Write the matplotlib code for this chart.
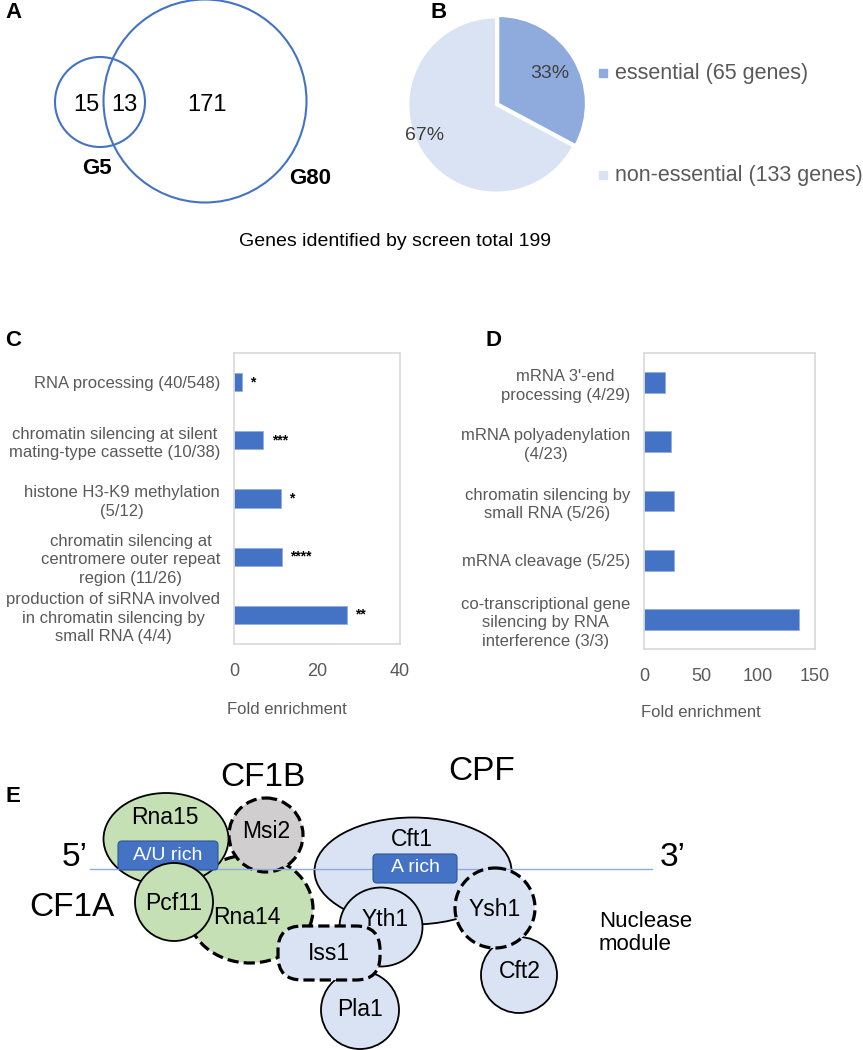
import matplotlib
matplotlib.use("Agg")
import matplotlib.pyplot as plt
from matplotlib.patches import Circle, Ellipse, FancyBboxPatch
from matplotlib.lines import Line2D

plt.rcParams['font.family'] = ['Liberation Sans', 'DejaVu Sans']

# --- data ---
venn_labels = ["15", "13", "171"]
venn_sets = ["G5", "G80"]
total_label = "Genes identified by screen total 199"

pie_names = ["essential (65 genes)", "non-essential (133 genes)"]
pie_counts = [65, 133]
pie_colors = ["#8faadc", "#dae3f3"]

c_terms = ["RNA processing (40/548)",
           "chromatin silencing at silent\nmating-type cassette (10/38)",
           "histone H3-K9 methylation\n(5/12)",
           "chromatin silencing at\ncentromere outer repeat\nregion (11/26)",
           "production of siRNA involved\nin chromatin silencing by\nsmall RNA (4/4)"]
c_fold = [1.9, 7.1, 11.3, 11.6, 27.2]
c_stars = ["*", "***", "*", "****", "**"]
c_ticks = [0, 20, 40]

d_terms = ["mRNA 3'-end\nprocessing (4/29)",
           "mRNA polyadenylation\n(4/23)",
           "chromatin silencing by\nsmall RNA (5/26)",
           "mRNA cleavage (5/25)",
           "co-transcriptional gene\nsilencing by RNA\ninterference (3/3)"]
d_fold = [18.7, 23.9, 26.6, 26.6, 135.7]
d_ticks = [0, 50, 100, 150]

W, H = 863, 1050
fig = plt.figure(figsize=(W / 100, H / 100), dpi=100)

bg = fig.add_axes([0, 0, 1, 1])
bg.set_xlim(0, W)
bg.set_ylim(H, 0)
bg.axis("off")


def px_axes(l, t, r, b):
    return fig.add_axes([l / W, 1 - b / H, (r - l) / W, (b - t) / H])


# panel letters
for s, x, y in [("A", 5, 13), ("B", 430, 13), ("C", 5, 340), ("D", 485, 340), ("E", 5, 797)]:
    bg.text(x, y, s, fontsize=16, fontweight="bold", va="center", ha="left")

# --- A: venn ---
blue = "#4472c4"
bg.add_patch(Circle((100, 102), 45, fill=False, ec=blue, lw=1.5))
bg.add_patch(Circle((205, 101), 101.5, fill=False, ec=blue, lw=1.5))
for s, x in zip(venn_labels, [86, 124, 207]):
    bg.text(x, 105, s, fontsize=17, ha="center", va="center")
bg.text(97, 168, venn_sets[0], fontsize=16, fontweight="bold", ha="center", va="center")
bg.text(310, 179, venn_sets[1], fontsize=16, fontweight="bold", ha="center", va="center")
bg.text(395, 242, total_label, fontsize=14, ha="center", va="center")

# --- B: pie ---
pax = px_axes(496 - 92, 105 - 92, 496 + 92, 105 + 92)
wedges, _, autotexts = pax.pie(pie_counts, colors=pie_colors, startangle=90, counterclock=False,
                               explode=(0.03, 0), autopct="%.0f%%", pctdistance=0.68,
                               wedgeprops=dict(edgecolor="white", linewidth=1.5),
                               textprops=dict(fontsize=14, color="#404040"))
autotexts[1].set_position((-0.82, -0.35))
pax.set_xlim(-1.05, 1.05)
pax.set_ylim(-1.05, 1.05)
for name, col, y in zip(pie_names, pie_colors, [73, 175]):
    bg.add_patch(plt.Rectangle((599, y - 4), 8, 8, color=col))
    bg.text(615, y, name, fontsize=15.5, color="#595959", va="center", ha="left")


# --- C / D: bar charts ---
def bar_panel(ax, terms, vals, ticks, height, stars=None):
    pos = list(range(len(terms)))
    ax.barh(pos, vals, height=height, color=blue, edgecolor="#8faadc", linewidth=0.5)
    ax.set_ylim(len(terms) - 0.5, -0.5)
    ax.set_xlim(ticks[0], ticks[-1])
    ax.set_xticks(ticks)
    ax.set_yticks(pos)
    ax.set_yticklabels(terms, fontsize=12, color="#595959", linespacing=1.3)
    for t in ax.get_yticklabels():
        t.set_multialignment("center")
    ax.tick_params(axis="both", length=0, colors="#595959")
    ax.tick_params(axis="y", pad=10)
    ax.tick_params(axis="x", labelsize=13, pad=14)
    for sp in ax.spines.values():
        sp.set_color("#d9d9d9")
        sp.set_linewidth(1.2)
    ax.set_xlabel("Fold enrichment", fontsize=12, color="#595959")
    if stars:
        for p, v, s in zip(pos, vals, stars):
            ax.annotate(s, (v, p), xytext=(6, 0), textcoords="offset points",
                        fontsize=10, fontweight="bold", va="center", ha="left")


cax = px_axes(234, 353, 400, 644)
bar_panel(cax, c_terms, c_fold, c_ticks, 0.31, c_stars)
cax.xaxis.set_label_coords(0.32, -0.2)

dax = px_axes(644, 353, 815, 649)
bar_panel(dax, d_terms, d_fold, d_ticks, 0.35)
dax.xaxis.set_label_coords(0.33, -0.19)

# --- E: cleavage/polyadenylation complex diagram ---
green, lblue, grey = "#c5e0b4", "#dae3f3", "#d0cece"
dash = (0, (3.5, 1.6))
solid_kw = dict(ec="black", lw=1.3)
dash_kw = dict(ec="black", lw=2.3, linestyle=dash)

bg.add_patch(Ellipse((250, 909), 126, 108, fc=green, zorder=2, **dash_kw))
bg.add_patch(Circle((266, 835), 37, fc=grey, zorder=3, **dash_kw))
bg.add_patch(Ellipse((166, 839), 125, 92, fc=green, zorder=4, **solid_kw))
bg.add_patch(Ellipse((413, 871), 197, 107, fc=lblue, zorder=2, **solid_kw))
bg.add_line(Line2D([90, 652], [869, 869], color="#8faadc", lw=1, zorder=4.5))
bg.add_patch(FancyBboxPatch((118, 841), 100, 29, boxstyle="round,pad=0,rounding_size=4",
                            fc=blue, ec="#2f5597", lw=0.8, zorder=5))
bg.add_patch(FancyBboxPatch((373, 854), 84, 29, boxstyle="round,pad=0,rounding_size=4",
                            fc=blue, ec="#2f5597", lw=0.8, zorder=5))
bg.add_patch(Circle((174, 902), 39, fc=green, zorder=6, **solid_kw))
bg.add_patch(Ellipse((381, 927), 83, 79, fc=lblue, zorder=6, **solid_kw))
bg.add_patch(Circle((360, 1010), 39, fc=lblue, zorder=6, **solid_kw))
bg.add_patch(FancyBboxPatch((278, 926), 102, 54, boxstyle="round,pad=0,rounding_size=24",
                            fc=lblue, zorder=7, **dash_kw))
bg.add_patch(Circle((519, 975), 38, fc=lblue, zorder=5.5, **solid_kw))
bg.add_patch(Circle((495, 908), 40, fc=lblue, zorder=6, **dash_kw))

names = [("Rna15", 165, 817), ("Msi2", 266, 831), ("Pcf11", 174, 904), ("Rna14", 247, 917),
         ("Iss1", 329, 953), ("Pla1", 360, 1010), ("Yth1", 385, 919), ("Cft1", 412, 840),
         ("Ysh1", 495, 909), ("Cft2", 520, 972)]
for s, x, y in names:
    bg.text(x, y, s, fontsize=16.5, ha="center", va="center", zorder=10)
bg.text(168, 856, "A/U rich", fontsize=14, color="white", ha="center", va="center", zorder=10)
bg.text(415, 868, "A rich", fontsize=14, color="white", ha="center", va="center", zorder=10)

for s, x, y in [("5\u2019", 75, 857), ("3\u2019", 673, 857), ("CF1A", 72, 907),
                ("CF1B", 263, 777), ("CPF", 482, 771)]:
    bg.text(x, y, s, fontsize=24, ha="center", va="center")
bg.text(599, 933, "Nuclease\nmodule", fontsize=16, ha="left", va="center", linespacing=1.15)

fig.savefig("out.png", dpi=100)
